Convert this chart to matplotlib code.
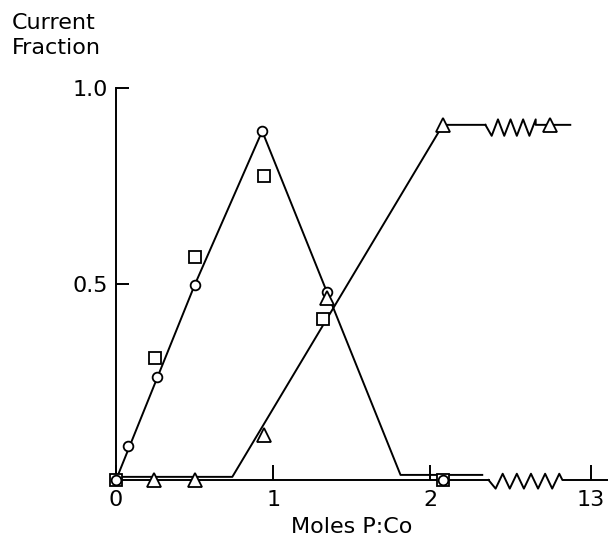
import matplotlib
matplotlib.use('Agg')
import matplotlib.pyplot as plt
import numpy as np

# x positions are on the drawn (broken) axis: 13 sits just past 3
circle_x = [0.0, 0.076, 0.26, 0.50, 0.93, 1.34, 2.08]
circle_y = [0.0, 0.087, 0.263, 0.497, 0.89, 0.48, 0.0]

square_x = [0.0, 0.25, 0.50, 0.94, 1.32, 2.08]
square_y = [0.0, 0.31, 0.57, 0.775, 0.41, 0.0]

triangle_x = [0.24, 0.50, 0.94, 1.34, 2.08, 2.76]
triangle_y = [0.0, 0.0, 0.115, 0.464, 0.906, 0.906]

# hand drawn fit lines
fit1_x = [0.0, 0.50, 0.93, 1.81, 2.33]
fit1_y = [0.0, 0.497, 0.89, 0.013, 0.013]
fit2_x = [0.0, 0.74, 2.08, 2.35]
fit2_y = [0.008, 0.008, 0.906, 0.906]
fit2_tail_x = [2.67, 2.89]

xtick_pos = [0, 1, 2, 3.02]
xtick_lab = ['0', '1', '2', '13']
ytick_pos = [0.5, 1.0]
ytick_lab = ['0.5', '1.0']


def zigzag(x0, x1, level, n, lo, hi):
    # break symbol: n teeth going down then up
    xs = [x0]
    ys = [level]
    step = (x1 - x0) / (2 * n)
    for i in range(n):
        xs.append(x0 + (2 * i + 1) * step)
        ys.append(level + lo)
        xs.append(x0 + (2 * i + 2) * step)
        ys.append(level + hi)
    return np.array(xs), np.array(ys)


fig = plt.figure(figsize=(6.08, 5.36), dpi=100)
ax = fig.add_axes([116 / 608, 56 / 536, 492 / 608, 392 / 536])
ax.set_xlim(0, 3.13)
ax.set_ylim(0, 1)

lw = 1.4
kw = dict(color='black', lw=lw, clip_on=False, zorder=2)
ax.plot(fit1_x, fit1_y, **kw)
ax.plot(fit2_x, fit2_y, **kw)
zx, zy = zigzag(fit2_x[-1], fit2_tail_x[0], fit2_y[-1], 4, -0.028, 0.014)
ax.plot(np.r_[zx, fit2_tail_x], np.r_[zy, [fit2_y[-1]] * 2], **kw)

# broken x axis
ax.plot([0, 2.37], [0, 0], **kw)
bx, by = zigzag(2.37, 2.82, 0.0, 5, -0.022, 0.016)
ax.plot(np.r_[bx, 2.84, 3.13], np.r_[by, 0, 0], **kw)

mk = dict(ls='none', mfc='white', mec='black', mew=1.3, clip_on=False, zorder=3)
ax.plot(square_x, square_y, marker='s', ms=8, **mk)
ax.plot(circle_x, circle_y, marker='o', ms=7, **mk)
ax.plot(triangle_x, triangle_y, marker='^', ms=10, **mk)

for s in ['top', 'right', 'bottom']:
    ax.spines[s].set_visible(False)
ax.spines['left'].set_linewidth(lw)
ax.spines['left'].set_bounds(0, 1)

ax.set_xticks(xtick_pos)
ax.set_xticklabels(xtick_lab)
ax.set_yticks(ytick_pos)
ax.set_yticklabels(ytick_lab)
ax.tick_params(axis='y', direction='in', length=9, width=lw, pad=6, labelsize=16)
ax.tick_params(axis='x', direction='in', length=11, width=lw, pad=7, labelsize=16)

ax.set_xlabel('Moles P:Co', fontsize=16)
ax.xaxis.set_label_coords((352 - 116) / 492, -0.094)

fig.text(12 / 608, 1 - 13 / 536, 'Current', fontsize=16, va='top', ha='left')
fig.text(12 / 608, 1 - 38 / 536, 'Fraction', fontsize=16, va='top', ha='left')

fig.savefig('out.png', dpi=100)
